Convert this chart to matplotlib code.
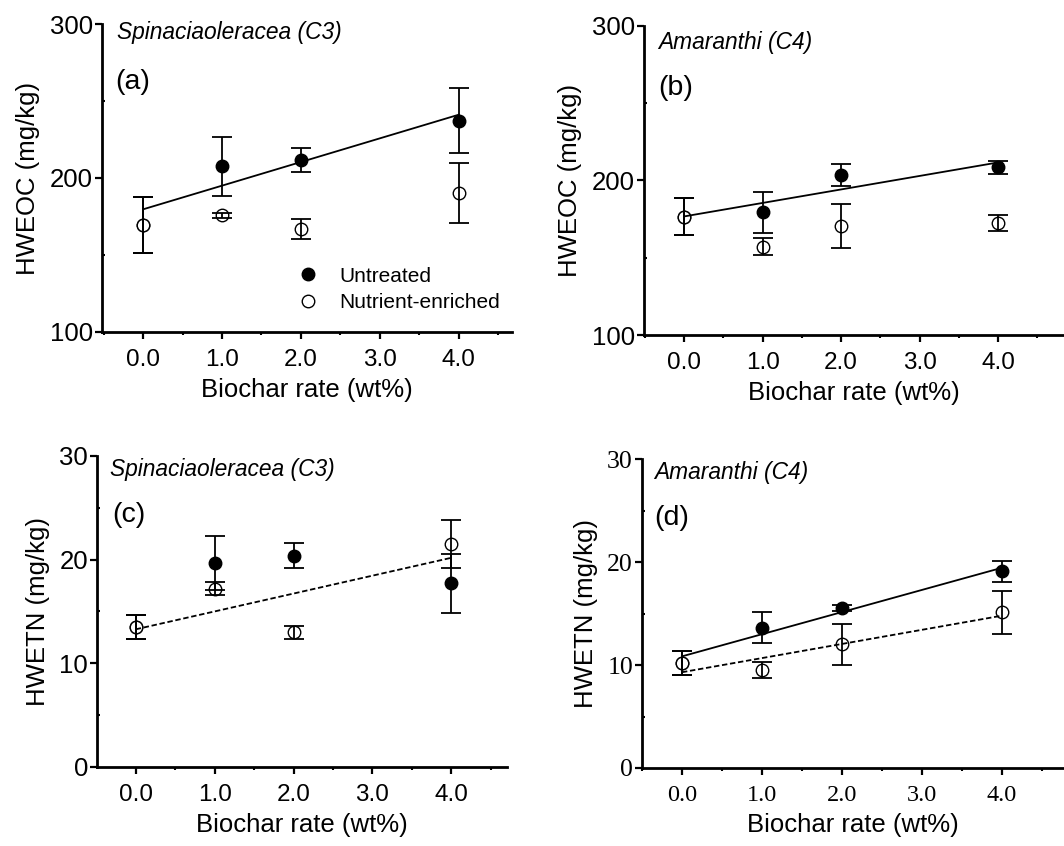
import matplotlib
matplotlib.use('Agg')
import matplotlib.pyplot as plt
import numpy as np
from matplotlib.ticker import MultipleLocator, FormatStrFormatter

plt.rcParams['font.family'] = ['Liberation Sans', 'DejaVu Sans']

# biochar rate (wt%)
rate = [0.0, 1.0, 2.0, 4.0]

# HWEOC (mg/kg), spinach (C3)
a_untreated = [169.6, 207.5, 211.8, 237.3]
a_untreated_err = [18.0, 19.0, 8.0, 21.0]
a_enriched = [169.6, 175.7, 166.8, 190.3]
a_enriched_err = [18.0, 1.5, 6.3, 19.5]

# HWEOC (mg/kg), amaranth (C4)
b_untreated = [176.6, 179.4, 203.6, 208.5]
b_untreated_err = [12.0, 13.3, 7.0, 4.0]
b_enriched = [176.6, 157.2, 170.6, 172.3]
b_enriched_err = [12.0, 5.7, 14.4, 5.3]

# HWETN (mg/kg), spinach (C3)
c_untreated = [13.5, 19.7, 20.4, 17.7]
c_untreated_err = [1.2, 2.6, 1.25, 2.85]
c_enriched = [13.5, 17.2, 13.0, 21.5]
c_enriched_err = [1.2, 0.65, 0.63, 2.3]

# HWETN (mg/kg), amaranth (C4)
d_untreated = [10.2, 13.6, 15.5, 19.1]
d_untreated_err = [1.2, 1.5, 0.3, 1.0]
d_enriched = [10.2, 9.5, 12.0, 15.1]
d_enriched_err = [1.2, 0.8, 2.0, 2.1]

XTICK_FS = 17.5
YTICK_FS = 18.5
LABEL_FS = 18.5


def fit_line(ax, y, style):
    k, b = np.polyfit(rate, y, 1)
    xs = np.array([0.0, 4.0])
    ax.plot(xs, k * xs + b, color='black', lw=1.3, linestyle=style, zorder=3)


def series(ax, y, err, face):
    ax.plot(rate, y, 'o', ms=9, mfc=face, mec='black', mew=1.0, zorder=2)
    ax.errorbar(rate, y, yerr=err, fmt='none', ecolor='black', elinewidth=1.3,
                capsize=7.5, capthick=1.3, zorder=3)


def setup_axes(ax, xlim, ylim, major, minor, ylabel, serif=False):
    ax.set_xlim(*xlim)
    ax.set_ylim(*ylim)
    for s in ['top', 'right']:
        ax.spines[s].set_visible(False)
    for s in ['left', 'bottom']:
        ax.spines[s].set_linewidth(2.0)
    ax.xaxis.set_major_locator(MultipleLocator(1.0))
    ax.xaxis.set_minor_locator(MultipleLocator(0.5))
    ax.xaxis.set_major_formatter(FormatStrFormatter('%.1f'))
    ax.yaxis.set_major_locator(MultipleLocator(major))
    ax.yaxis.set_minor_locator(MultipleLocator(minor))
    ax.tick_params(axis='both', which='major', direction='out', length=5, width=1.6)
    ax.tick_params(axis='x', which='major', pad=7, labelsize=XTICK_FS)
    ax.tick_params(axis='y', which='major', pad=1.5, labelsize=YTICK_FS)
    ax.tick_params(axis='x', which='minor', direction='out', length=2, width=1.5)
    ax.tick_params(axis='y', which='minor', direction='in', length=2.5, width=1.5)
    if serif:
        for lab in ax.get_xticklabels() + ax.get_yticklabels():
            lab.set_family(['Liberation Serif', 'DejaVu Serif'])
    ax.set_xlabel('Biochar rate (wt%)', fontsize=LABEL_FS, labelpad=5)
    ax.set_ylabel(ylabel, fontsize=LABEL_FS, labelpad=7)


fig = plt.figure(figsize=(10.64, 8.46), dpi=100)

# (a)
ax = fig.add_axes([0.0959, 0.6076, 0.385, 0.364])
series(ax, a_untreated, a_untreated_err, 'black')
series(ax, a_enriched, a_enriched_err, 'white')
fit_line(ax, a_untreated, '-')
setup_axes(ax, (-0.52, 4.67), (100, 300), 100, 50, 'HWEOC (mg/kg)')
ax.text(0.037, 0.971, 'Spinaciaoleracea (C3)', transform=ax.transAxes, fontsize=16.4,
        style='italic', va='center', ha='left')
ax.text(0.032, 0.812, '(a)', transform=ax.transAxes, fontsize=20.5, va='center', ha='left')
h1, = ax.plot([], [], 'o', ms=9, mfc='black', mec='black')
h2, = ax.plot([], [], 'o', ms=9, mfc='white', mec='black')
ax.legend([h1, h2], ['Untreated', 'Nutrient-enriched'], loc='center left',
          bbox_to_anchor=(0.452, 0.139), frameon=False, fontsize=15, borderpad=0,
          handlelength=1.0, handletextpad=1.0, labelspacing=0.35)

# (b)
ax = fig.add_axes([0.6053, 0.604, 0.3947, 0.3653])
series(ax, b_untreated, b_untreated_err, 'black')
series(ax, b_enriched, b_enriched_err, 'white')
fit_line(ax, b_untreated, '-')
setup_axes(ax, (-0.51, 4.84), (100, 300), 100, 50, 'HWEOC (mg/kg)')
ax.text(0.033, 0.945, 'Amaranthi (C4)', transform=ax.transAxes, fontsize=16.4,
        style='italic', va='center', ha='left')
ax.text(0.033, 0.80, '(b)', transform=ax.transAxes, fontsize=20.5, va='center', ha='left')

# (c)
ax = fig.add_axes([0.0912, 0.0934, 0.385, 0.3676])
series(ax, c_untreated, c_untreated_err, 'black')
series(ax, c_enriched, c_enriched_err, 'white')
fit_line(ax, c_enriched, (0, (3, 1.5)))
setup_axes(ax, (-0.49, 4.70), (0, 30), 10, 5, 'HWETN (mg/kg)')
ax.text(0.032, 0.955, 'Spinaciaoleracea (C3)', transform=ax.transAxes, fontsize=16.4,
        style='italic', va='center', ha='left')
ax.text(0.037, 0.81, '(c)', transform=ax.transAxes, fontsize=20.5, va='center', ha='left')

# (d)
ax = fig.add_axes([0.6034, 0.0922, 0.3966, 0.3652])
series(ax, d_untreated, d_untreated_err, 'black')
series(ax, d_enriched, d_enriched_err, 'white')
fit_line(ax, d_untreated, '-')
fit_line(ax, d_enriched, (0, (3, 1.5)))
setup_axes(ax, (-0.5, 4.78), (0, 30), 10, 5, 'HWETN (mg/kg)', serif=True)
ax.text(0.028, 0.955, 'Amaranthi (C4)', transform=ax.transAxes, fontsize=16.4,
        style='italic', va='center', ha='left')
ax.text(0.028, 0.81, '(d)', transform=ax.transAxes, fontsize=20.5, va='center', ha='left')

plt.savefig('out.png', dpi=100)
